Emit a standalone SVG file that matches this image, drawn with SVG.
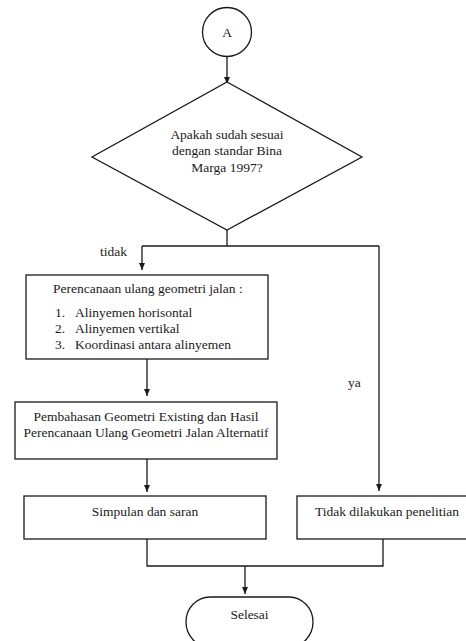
<svg xmlns="http://www.w3.org/2000/svg" width="466" height="641" viewBox="0 0 466 641">
<style>
.s{fill:#fff;stroke:#1a1a1a;stroke-width:1.3}
.c{fill:none;stroke:#1a1a1a;stroke-width:1.3}
text{font-family:"Liberation Serif","Times New Roman",serif;font-size:13.5px;fill:#1a1a1a}
.m{text-anchor:middle}
</style>
<defs>
<marker id="ah" markerUnits="userSpaceOnUse" markerWidth="8" markerHeight="8" refX="7" refY="3" orient="auto">
<path d="M0,0 L7,3 L0,6 z" fill="#1a1a1a"/>
</marker>
</defs>
<rect width="466" height="641" fill="#fff"/>
<g id="connectors">
<path class="c" d="M227,57 V84" marker-end="url(#ah)"/>
<path class="c" d="M227,230 V246 M142,246 H379"/>
<path class="c" d="M142,246 V270" marker-end="url(#ah)"/>
<path class="c" d="M379,246 V491" marker-end="url(#ah)"/>
<path class="c" d="M147,359 V396" marker-end="url(#ah)"/>
<path class="c" d="M147,459 V492" marker-end="url(#ah)"/>
<path class="c" d="M147,539 V566 H383 V539"/>
<path class="c" d="M245,566 V594" marker-end="url(#ah)"/>
<text x="100" y="256">tidak</text>
<text x="348" y="387">ya</text>
</g>
<g id="start">
<circle class="s" cx="227" cy="32" r="24.5"/>
<text class="m" x="227" y="37">A</text>
</g>
<g id="decision">
<polygon class="s" points="227,82 362,157 227,230 92,157"/>
<text class="m" x="227" y="139">Apakah sudah sesuai</text>
<text class="m" x="227" y="155">dengan standar Bina</text>
<text class="m" x="227" y="172">Marga 1997?</text>
</g>
<g id="replan">
<rect class="s" x="26" y="275" width="242" height="84"/>
<text x="53" y="293">Perencanaan ulang geometri jalan :</text>
<text x="55" y="317">1.</text><text x="75" y="317">Alinyemen horisontal</text>
<text x="55" y="333">2.</text><text x="75" y="333">Alinyemen vertikal</text>
<text x="55" y="349">3.</text><text x="75" y="349">Koordinasi antara alinyemen</text>
</g>
<g id="discussion">
<rect class="s" x="15" y="402" width="262" height="57"/>
<text class="m" x="146" y="421">Pembahasan Geometri Existing dan Hasil</text>
<text class="m" x="146" y="437">Perencanaan Ulang Geometri Jalan Alternatif</text>
</g>
<g id="conclusion">
<rect class="s" x="24" y="496" width="242" height="43"/>
<text class="m" x="145" y="516">Simpulan dan saran</text>
</g>
<g id="noresearch">
<rect class="s" x="297" y="496" width="175" height="43"/>
<text class="m" x="387" y="516">Tidak dilakukan penelitian</text>
</g>
<g id="end">
<rect class="s" x="186" y="597" width="127" height="50" rx="24" ry="25"/>
<text class="m" x="249.5" y="619">Selesai</text>
</g>
</svg>
